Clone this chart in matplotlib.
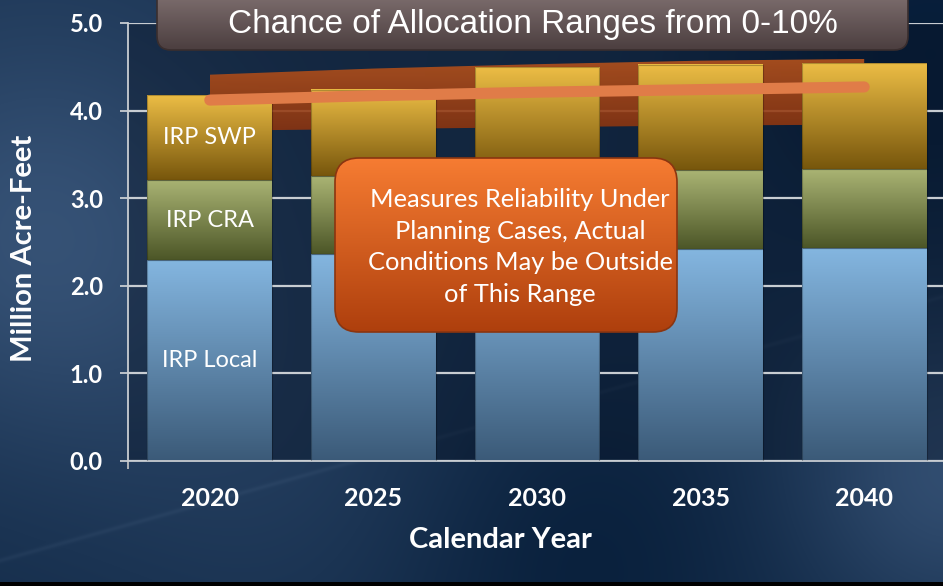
import numpy as np
import matplotlib
matplotlib.use("Agg")
import matplotlib.pyplot as plt
from matplotlib.colors import LinearSegmentedColormap, to_rgb
from matplotlib.patches import FancyBboxPatch, PathPatch

# ---------------- data ----------------
years = ["2020", "2025", "2030", "2035", "2040"]
irp_local = [2.29, 2.36, 2.39, 2.42, 2.43]
irp_cra = [0.92, 0.89, 0.90, 0.90, 0.90]
irp_swp = [0.97, 0.99, 1.21, 1.20, 1.21]
range_low = [3.77, 3.79, 3.81, 3.83, 3.84]
range_high = [4.41, 4.48, 4.53, 4.57, 4.59]
expected = [4.12, 4.17, 4.21, 4.24, 4.27]
yticks = [0.0, 1.0, 2.0, 3.0, 4.0, 5.0]
title_text = "Chance of Allocation Ranges from 0-10%"
note_text = "Measures Reliability Under\nPlanning Cases, Actual\nConditions May be Outside\nof This Range"
seg_labels = ["IRP Local", "IRP CRA", "IRP SWP"]

W, H = 943, 586
fig = plt.figure(figsize=(W / 100, H / 100), dpi=100)

# ---------------- background ----------------
bg = fig.add_axes([0, 0, 1, 1], zorder=-10)
bg.set_axis_off()
yy, xx = np.mgrid[0:H, 0:W].astype(float)
base = np.array(to_rgb("#1b3453"))
field = np.zeros((H, W))
def glow(cx, cy, s, a):
    return a * np.exp(-(((xx - cx) ** 2 + (yy - cy) ** 2) / (2 * s ** 2)))
field += glow(40, 240, 150, 0.13)
field += glow(950, 470, 110, 0.13)
field += glow(320, 470, 160, 0.05)
field += glow(930, 40, 160, -0.09)
field += glow(560, 540, 140, -0.06)
field += -0.03 * (yy / H)
img = np.clip(base[None, None, :] + field[..., None] * np.array([0.85, 0.95, 1.1])[None, None, :], 0, 1)
streak = np.exp(-((yy - (560 - 0.28 * xx)) ** 2) / 6.0) * 0.03
img = np.clip(img + streak[..., None], 0, 1)
img[-4:, :, :] = 0.0
bg.imshow(img, extent=[0, W, H, 0], aspect="auto", interpolation="bilinear")
bg.set_xlim(0, W)
bg.set_ylim(H, 0)

# ---------------- main axes ----------------
left_px, right_px, top_px, bot_px = 128, 946, 23, 461
ax = fig.add_axes([left_px / W, (H - bot_px) / H, (right_px - left_px) / W, (bot_px - top_px) / H])
ax.set_facecolor((0.03, 0.08, 0.15, 0.42))
x = np.arange(len(years))
bw = 0.764

def vgrad(top, bottom):
    return LinearSegmentedColormap.from_list("g", [bottom, top])

def grad_fill(patch, cmap, zorder):
    bb = patch.get_bbox()
    ax.imshow(np.linspace(0, 1, 256).reshape(-1, 1), cmap=cmap, origin="lower",
              extent=[bb.x0, bb.x1, bb.y0, bb.y1], aspect="auto",
              clip_path=patch, clip_on=True, zorder=zorder, interpolation="bilinear")

# range band
band = ax.fill_between(x, range_low, range_high, color="#9a4015", alpha=0.0, zorder=0.8, lw=0)
band_cmap = vgrad("#b5521c", "#8a3410")
bpatch = PathPatch(band.get_paths()[0], facecolor="none", edgecolor="none", transform=ax.transData)
ax.add_patch(bpatch)
ax.imshow(np.linspace(0, 1, 256).reshape(-1, 1), cmap=band_cmap, origin="lower",
          extent=[0, 4, min(range_low), max(range_high)], aspect="auto",
          clip_path=bpatch, zorder=0.8, alpha=0.9, interpolation="bilinear")

bottoms2 = [a + b for a, b in zip(irp_local, irp_cra)]
series = [
    (irp_local, [0] * 5, "#84b6e0", "#3b5a78"),
    (irp_cra, irp_local, "#aab474", "#4c5627"),
    (irp_swp, bottoms2, "#ecbd45", "#77560c"),
]
for vals, bots, ctop, cbot in series:
    bars = ax.bar(x, vals, bw, bottom=bots, color="none", edgecolor=(0, 0, 0, 0.25), lw=0.8, zorder=3)
    for p in bars.patches:
        grad_fill(p, vgrad(ctop, cbot), 2)

ax.plot(x, expected, color="#e07c48", lw=8, solid_capstyle="round", zorder=5)

mids = [irp_local[0] / 2, irp_local[0] + irp_cra[0] / 2, bottoms2[0] + irp_swp[0] / 2]
for lab, m in zip(seg_labels, mids):
    ax.text(0, m, lab, ha="center", va="center", color="white", fontsize=17,
            family="Lato", zorder=6)

ax.set_xlim(-0.5, 4.5)
ax.set_ylim(0, 5)
ax.set_yticks(yticks)
ax.set_yticklabels([f"{v:.1f}" for v in yticks])
ax.set_xticks(x)
ax.set_xticklabels(years)
ax.set_xticks([-0.5], minor=True)
ax.tick_params(axis="x", which="minor", length=6, color="#c8c8c8", width=1.2, direction="out")
ax.set_axisbelow(True)
ax.grid(axis="y", color="#c8cdd2", lw=1.6)
for s in ["top", "right"]:
    ax.spines[s].set_visible(False)
for s in ["left", "bottom"]:
    ax.spines[s].set_color("#c8cdd2")
    ax.spines[s].set_linewidth(1.3)
ax.tick_params(axis="y", length=6, color="#c8cdd2", width=1.3, pad=12, labelsize=17,
               labelcolor="white")
ax.tick_params(axis="x", which="major", length=0, pad=19, labelsize=18, labelcolor="white")
for t in ax.get_yticklabels() + ax.get_xticklabels():
    t.set_fontfamily("Lato")
    t.set_fontweight("bold")

fig.text(24 / W, 1 - 248 / H, "Million Acre-Feet", rotation=90, ha="center", va="center",
         color="white", fontsize=21, fontweight="bold", family="Lato")
fig.text(500 / W, 1 - 540 / H, "Calendar Year", ha="center", va="center",
         color="white", fontsize=21, fontweight="bold", family="Lato")

# ---------------- overlay (boxes) ----------------
ov = fig.add_axes([0, 0, 1, 1], zorder=10)
ov.set_axis_off()
ov.patch.set_alpha(0)
ov.set_xlim(0, W)
ov.set_ylim(H, 0)

def grad_box(x0, y0, x1, y1, r, ctop, cbot, edge):
    p = FancyBboxPatch((x0, y0), x1 - x0, y1 - y0, boxstyle=f"round,pad=0,rounding_size={r}",
                       facecolor="none", edgecolor=edge, lw=1.2, zorder=2)
    ov.add_patch(p)
    cm = LinearSegmentedColormap.from_list("b", [ctop, cbot])
    ov.imshow(np.linspace(0, 1, 256).reshape(-1, 1), cmap=cm, extent=[x0, x1, y1, y0],
              aspect="auto", clip_path=p, zorder=1, interpolation="bilinear")

grad_box(157, -20, 908, 50, 14, "#8a7a7a", "#4b3e3f", "#3a2e2e")
ov.text(533, 24, title_text, ha="center", va="center", color="white", fontsize=24,
        family="Liberation Sans", zorder=3)
grad_box(335, 158, 677, 332, 24, "#f67c32", "#ae3f0d", "#8a3510")
ov.text(520, 247, note_text, ha="center", va="center", color="white", fontsize=18.3,
        family="Lato", linespacing=1.47, zorder=3)
ov.set_xlim(0, W)
ov.set_ylim(H, 0)

fig.savefig("out.png", dpi=100)
